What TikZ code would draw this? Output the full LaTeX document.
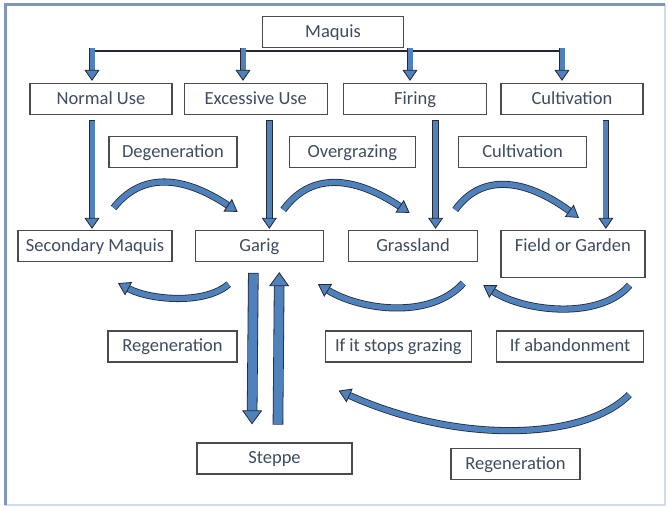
\documentclass[tikz,border=0pt]{standalone}
\usepackage{fontspec}
\setmainfont{Carlito}
\usepackage{tikz}
\usetikzlibrary{arrows.meta,positioning}

\definecolor{arrowblue}{RGB}{79,129,189}
\definecolor{edgegray}{RGB}{35,40,50}
\definecolor{boxgray}{RGB}{75,75,75}
\definecolor{textgray}{RGB}{62,76,96}
\definecolor{framedark}{RGB}{125,150,185}
\definecolor{framelight}{RGB}{205,220,238}

\tikzstyle{stage} = [rectangle, draw=boxgray, line width=1.3pt, fill=white, text=textgray, font=\fontsize{18.5}{21}\selectfont, text height=13.5pt, text depth=3pt, inner xsep=4pt, inner ysep=7.25pt]
\tikzstyle{flow} = [draw=edgegray, line width=0.8pt, double=arrowblue, double distance=5pt, line cap=rect, -{Triangle[length=11pt,width=15pt,fill=arrowblue]}]
\tikzstyle{bigflow} = [draw=edgegray, line width=0.8pt, double=arrowblue, double distance=9pt, line cap=rect, -{Triangle[length=14pt,width=20pt,fill=arrowblue]}]
\tikzstyle{bendflow} = [draw=edgegray, line width=0.8pt, double=arrowblue, double distance=5.5pt, -{Triangle[length=12pt,width=15pt,fill=arrowblue]}]

\begin{document}
\begin{tikzpicture}[x=1pt, y=-1pt]
\useasboundingbox (0,0) rectangle (669,508);
\draw[framelight, line width=1.5pt] (5,5) rectangle (665,505);
\draw[framedark, line width=3pt] (5,505) -- (5,5) -- (665,5);

% top row
\node (maquis) [stage, minimum width=141pt] at (333,32) {Maquis};
\node (normal) [stage, minimum width=142pt] at (101,99) {Normal Use};
\node (excessive) [stage, minimum width=143pt, right=11pt of normal] {Excessive Use};
\node (firing) [stage, minimum width=143pt, right=15pt of excessive] {Firing};
\node (cultivation) [stage, minimum width=142pt, right=13pt of firing] {Cultivation};

% what happens
\node (degeneration) [stage, minimum width=128pt] at (173,152) {Degeneration};
\node (overgrazing) [stage, minimum width=126pt, right=51pt of degeneration] {Overgrazing};
\node (tilling) [stage, minimum width=128pt, right=42pt of overgrazing] {Cultivation};

% vegetation
\node (secmaquis) [stage, minimum width=154pt] at (95,246) {Secondary Maquis};
\node (garig) [stage, minimum width=128pt, right=22pt of secmaquis] {Garig};
\node (grassland) [stage, minimum width=129pt, right=24pt of garig] {Grassland};
\node (field) [stage, minimum width=144pt, text depth=19pt, right=22pt of grassland.north east, anchor=north west] {Field or Garden};

% way back
\node (regenA) [stage, minimum width=129pt] at (172.5,346.5) {Regeneration};
\node (stopgrazing) [stage, minimum width=146pt, right=87pt of regenA] {If it stops grazing};
\node (abandon) [stage, minimum width=147pt, right=24pt of stopgrazing] {If abandonment};
\node (steppe) [stage, minimum width=155pt] at (274.5,458.5) {Steppe};
\node (regenB) [stage, minimum width=129pt] at (515.5,464) {Regeneration};

% split under Maquis
\coordinate (b1) at (92,51);
\coordinate (b2) at (243,51);
\coordinate (b3) at (410,51);
\coordinate (b4) at (562,51);
\draw[edgegray, line width=2.5pt] (b1) -- (b4);
\draw[flow] (b1) -- ([yshift=2pt]b1 |- normal.north);
\draw[flow] (b2) -- ([yshift=2pt]b2 |- excessive.north);
\draw[flow] (b3) -- ([yshift=2pt]b3 |- firing.north);
\draw[flow] (b4) -- ([yshift=2pt]b4 |- cultivation.north);

% straight down
\draw[flow] ([xshift=-9pt,yshift=-8pt]normal.south) -- ([xshift=-3pt,yshift=1pt]secmaquis.north);
\draw[flow] ([xshift=13.5pt,yshift=-8pt]excessive.south) -- ([xshift=10pt,yshift=1pt]garig.north);
\draw[flow] ([xshift=20.5pt,yshift=-8pt]firing.south) -- ([xshift=22.5pt,yshift=1pt]grassland.north);
\draw[flow] ([xshift=34pt,yshift=-8pt]cultivation.south) -- ([xshift=33pt,yshift=1pt]field.north);

% degradation bends
\draw[bendflow] ([xshift=-59pt,yshift=22pt]secmaquis.north east) .. controls (145,168) and (190,180) .. ([xshift=43pt,yshift=18pt]garig.north west);
\draw[bendflow] ([xshift=24pt,yshift=20pt]garig.north) .. controls (314,168) and (360,180) .. ([xshift=-3.5pt,yshift=17pt]grassland.north);
\draw[bendflow] ([xshift=-23pt,yshift=20pt]grassland.north east) .. controls (484,170) and (530,182) .. ([xshift=6pt,yshift=12pt]field.north);

% regeneration bends
\draw[bendflow] ([xshift=34pt,yshift=-22pt]garig.south west) .. controls (205,305) and (150,300) .. ([xshift=23pt,yshift=-21pt]secmaquis.south);
\draw[bendflow] ([xshift=-15pt,yshift=-21pt]grassland.south east) .. controls (430,320) and (360,310) .. ([xshift=-6pt,yshift=-22pt]garig.south east);
\draw[bendflow] ([xshift=-16pt,yshift=-7pt]field.south east) .. controls (600,320) and (525,312) .. ([xshift=5pt,yshift=-23pt]grassland.south east);
\draw[bendflow] ([xshift=-15pt,yshift=-32pt]abandon.south east) .. controls (585,440) and (460,445) .. ([xshift=14pt,yshift=-28pt]stopgrazing.south west);

% Garig and Steppe
\draw[bigflow] ([xshift=-6pt,yshift=-16pt]garig.south) -- ([xshift=-22.5pt,yshift=18pt]steppe.north);
\draw[bigflow] ([xshift=3.5pt,yshift=23pt]steppe.north) -- ([xshift=20pt,yshift=-10pt]garig.south);
\end{tikzpicture}
\end{document}
